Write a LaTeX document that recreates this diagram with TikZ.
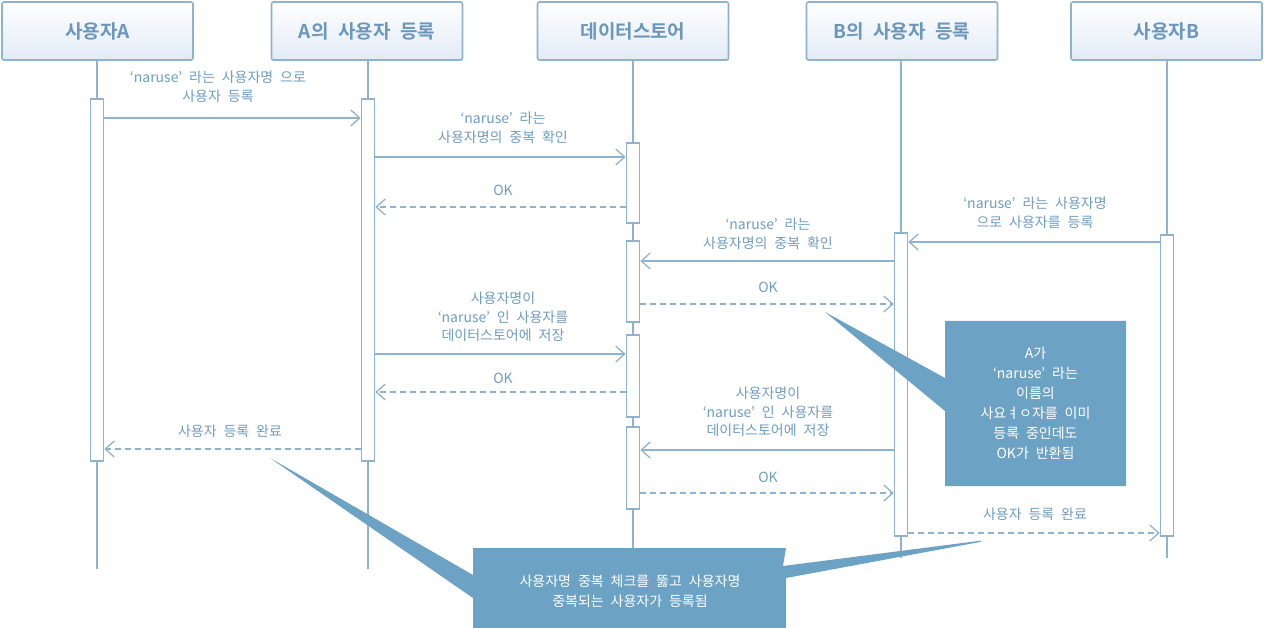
\documentclass[tikz,border=0pt]{standalone}
\usepackage{fontspec}
\setmainfont{Noto Sans CJK KR}[BoldFont={Noto Sans CJK KR Bold},WordSpace=2.2]
\usetikzlibrary{arrows.meta}
\definecolor{ln}{HTML}{8FB3CE}
\definecolor{tx}{HTML}{6E9CC0}
\definecolor{hd}{HTML}{6A97BB}
\definecolor{co}{HTML}{6CA2C4}
\definecolor{hb}{HTML}{E2EBF5}
\begin{document}
\begin{tikzpicture}[x=1pt,y=-1pt,
 header/.style={draw=ln, line width=1.6pt, rounded corners=2pt, top color=white, bottom color=hb, minimum width=191pt, minimum height=58pt, font=\fontsize{19}{21}\selectfont\bfseries, text=hd, inner sep=0pt},
 life/.style={draw=ln, line width=1.6pt},
 bar/.style={draw=ln, line width=1.6pt, fill=white, minimum width=13pt, inner sep=0pt},
 msg/.style={draw=ln, line width=1.4pt, -{Straight Barb[length=9pt,width=16pt,line width=1.3pt]}},
 ret/.style={msg, dash pattern=on 6pt off 4pt},
 lbl/.style={text=tx, font=\fontsize{14}{18.5}\selectfont, align=center, inner sep=0pt},
 note/.style={text=white, font=\fontsize{14}{20}\selectfont, align=center, inner sep=0pt},
]
\useasboundingbox (0,0) rectangle (1264,628);

% headers
\node[header] (hA)  at (97.5,31) {사용자A};
\node[header] (hAR) at (367,31) {A의 사용자 등록};
\node[header] (hD)  at (633,31) {데이터스토어};
\node[header] (hBR) at (902,31) {B의 사용자 등록};
\node[header] (hB)  at (1166.5,31) {사용자B};

% lifeline ends
\coordinate (eA)  at (97,569);
\coordinate (eAR) at (368,569);
\coordinate (eD)  at (633,548);
\coordinate (eBR) at (901,558);
\coordinate (eB)  at (1167,558);
\draw[life] (hA.south -| eA) -- (eA);
\draw[life] (hAR.south -| eAR) -- (eAR);
\draw[life] (hD.south -| eD) -- (eD);
\draw[life] (hBR.south -| eBR) -- (eBR);
\draw[life] (hB.south -| eB) -- (eB);

% activation bars
\node[bar, minimum height=362pt] (bA)  at (97,280) {};
\node[bar, minimum height=362pt] (bAR) at (368,280) {};
\node[bar, minimum height=80pt]  (bD1) at (633,183) {};
\node[bar, minimum height=81pt]  (bD2) at (633,281.5) {};
\node[bar, minimum height=82pt]  (bD3) at (633,376) {};
\node[bar, minimum height=82pt]  (bD4) at (633,468) {};
\node[bar, minimum height=303pt] (bBR) at (901,384.5) {};
\node[bar, minimum height=301pt] (bB)  at (1167,385.5) {};

% messages
\draw[msg] (bA.east |- 0,118) -- (bAR.west |- 0,118);
\node[lbl] (l1) at (218,87) {‘naruse’ 라는 사용자명 으로\\사용자 등록};

\draw[msg] (bAR.east |- 0,157) -- (bD1.west |- 0,157);
\node[lbl] (l2) at (503,128) {‘naruse’ 라는\\사용자명의 중복 확인};

\draw[ret] (bD1.west |- 0,207) -- (bAR.east |- 0,207);
\node[lbl] (l3) at (503,190) {OK};

\draw[msg] (bB.west |- 0,242) -- (bBR.east |- 0,242);
\node[lbl] (l4) at (1035,213) {‘naruse’ 라는 사용자명\\으로 사용자를 등록};

\draw[msg] (bBR.west |- 0,261) -- (bD2.east |- 0,261);
\node[lbl] (l5) at (768,234) {‘naruse’ 라는\\사용자명의 중복 확인};

\draw[ret] (bD2.east |- 0,304) -- (bBR.west |- 0,304);
\node[lbl] (l6) at (768,287) {OK};

\draw[msg] (bAR.east |- 0,354) -- (bD3.west |- 0,354);
\node[lbl] (l7) at (503,317) {사용자명이\\‘naruse’ 인 사용자를\\데이터스토어에 저장};

\draw[ret] (bD3.west |- 0,392) -- (bAR.east |- 0,392);
\node[lbl] (l8) at (503,378) {OK};

\draw[msg] (bBR.west |- 0,450) -- (bD4.east |- 0,450);
\node[lbl] (l9) at (768,412) {사용자명이\\‘naruse’ 인 사용자를\\데이터스토어에 저장};

\draw[ret] (bD4.east |- 0,493) -- (bBR.west |- 0,493);
\node[lbl] (l10) at (768,477) {OK};

\draw[ret] (bAR.west |- 0,449) -- (bA.east |- 0,449);
\node[lbl] (l11) at (230,431) {사용자 등록 완료};

\draw[ret] (bBR.east |- 0,533) -- (bB.west |- 0,533);
\node[lbl] (l12) at (1035,514) {사용자 등록 완료};

% callout right
\fill[co] (945,321) -- (1126,321) -- (1126,486) -- (945,486) -- (945,411) -- (825,312) -- (945,378) -- cycle;
\node[note] (n1) at (1035.5,403.5) {A가\\‘naruse’ 라는\\이름의\\사요ㅕㅇ자를 이미\\등록 중인데도\\OK가 반환됨};

% callout bottom
\fill[co] (473,548) -- (786,548) -- (783,566) -- (978,541) .. controls (982,540) and (982,541) .. (980,542) -- (786,578) -- (786,628) -- (473,628) -- (473,598) -- (270,458) -- (473,575) -- cycle;
\node[note] (n2) at (630,591) {사용자명 중복 체크를 뚫고 사용자명\\중복되는 사용자가 등록됨};
\end{tikzpicture}
\end{document}
